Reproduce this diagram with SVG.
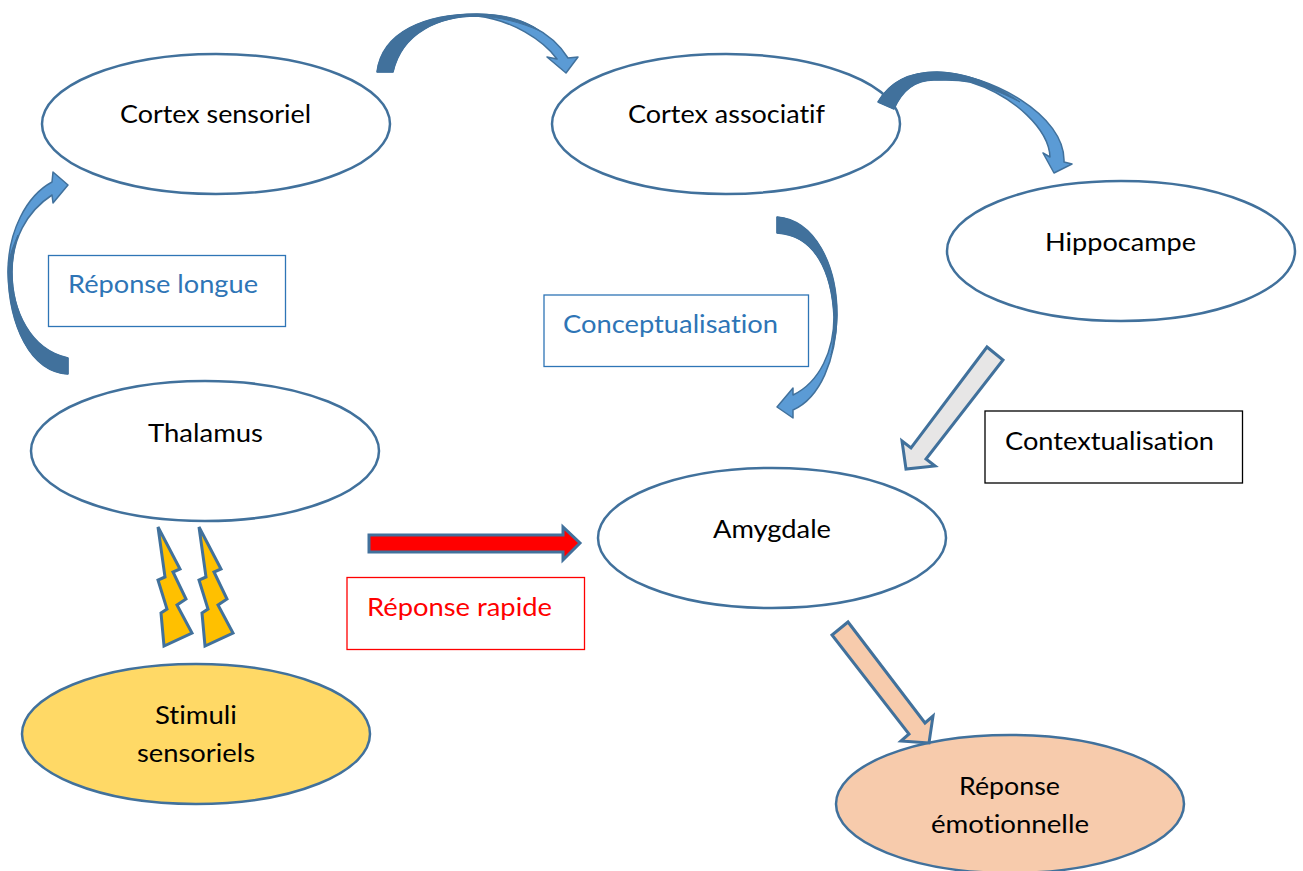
<svg xmlns="http://www.w3.org/2000/svg" width="1303" height="871" viewBox="0 0 1303 871">
<style>
.n{fill:#fff;stroke:#41719c;stroke-width:2.5}
.t{font-family:Lato,"Open Sans",sans-serif;font-size:25.5px;fill:#000;font-variant-ligatures:none}
.b{fill:#fff;stroke-width:1.3}
.a{stroke:#41719c;stroke-width:3;stroke-linejoin:miter}
.l{fill:#5b9bd5;stroke:#41719c;stroke-width:1.5;stroke-linejoin:round}
.d{fill:#41719c;stroke:#41719c;stroke-width:1;stroke-linejoin:round}
</style>
<rect width="1303" height="871" fill="#fff"/>
<g id="node-cortex-sensoriel"><ellipse class="n" cx="216" cy="124" rx="174" ry="70"/><text class="t" x="120" y="123" textLength="191" lengthAdjust="spacingAndGlyphs">Cortex sensoriel</text></g>
<g id="node-cortex-associatif"><ellipse class="n" cx="726" cy="124" rx="174" ry="70"/><text class="t" x="628" y="123" textLength="197" lengthAdjust="spacingAndGlyphs">Cortex associatif</text></g>
<g id="node-hippocampe"><ellipse class="n" cx="1121" cy="251" rx="174" ry="70"/><text class="t" x="1045" y="251" textLength="151" lengthAdjust="spacingAndGlyphs">Hippocampe</text></g>
<g id="node-thalamus"><ellipse class="n" cx="205" cy="451" rx="174" ry="70"/><text class="t" x="148" y="442" textLength="115" lengthAdjust="spacingAndGlyphs">Thalamus</text></g>
<g id="node-amygdale"><ellipse class="n" cx="772" cy="538" rx="174" ry="70"/><text class="t" x="713" y="538" textLength="118" lengthAdjust="spacingAndGlyphs">Amygdale</text></g>
<g id="node-stimuli"><ellipse class="n" cx="196" cy="734" rx="174" ry="70" style="fill:#ffd966"/><text class="t" x="155" y="724" textLength="82" lengthAdjust="spacingAndGlyphs">Stimuli</text><text class="t" x="137" y="762" textLength="118" lengthAdjust="spacingAndGlyphs">sensoriels</text></g>
<g id="node-reponse-emotionnelle"><ellipse class="n" cx="1010" cy="804" rx="174" ry="69" style="fill:#f7cbac"/><text class="t" x="959" y="795" textLength="101" lengthAdjust="spacingAndGlyphs">Réponse</text><text class="t" x="931" y="833" textLength="158" lengthAdjust="spacingAndGlyphs">émotionnelle</text></g>
<g id="label-reponse-longue"><rect class="b" x="48.500" y="255.500" width="237" height="71" stroke="#2e75b6"/><text class="t" x="68" y="293" textLength="190" lengthAdjust="spacingAndGlyphs" style="fill:#2e75b6">Réponse longue</text></g>
<g id="label-conceptualisation"><rect class="b" x="544" y="295" width="264.500" height="71.500" stroke="#2e75b6"/><text class="t" x="563" y="333" textLength="215" lengthAdjust="spacingAndGlyphs" style="fill:#2e75b6">Conceptualisation</text></g>
<g id="label-contextualisation"><rect class="b" x="985" y="411" width="257.500" height="72" stroke="#000"/><text class="t" x="1005" y="450" textLength="209" lengthAdjust="spacingAndGlyphs">Contextualisation</text></g>
<g id="label-reponse-rapide"><rect class="b" x="347" y="577.500" width="237.500" height="72" stroke="#f00"/><text class="t" x="367" y="616" textLength="185" lengthAdjust="spacingAndGlyphs" style="fill:#f00">Réponse rapide</text></g>
<g id="connectors">
<g id="c-sensoriel-associatif">
<path class="l" d="M377 72C382 32 425 14 477 14C520 15 552 32 568 58L578 57L566 73L547 57L557 59C543 40 512 20 477 16C440 16 402 32 393 72Z"/>
<path class="d" d="M377 72C382 32 425 14 477 14C505 14 525 20 540 31C520 22 500 17 477 16C440 16 402 32 393 72Z"/>
</g>
<g id="c-associatif-hippocampe">
<path class="l" d="M878 102C892 78 915 72 937 72C990 74 1066 115 1064 162L1072 164L1054 173L1043 153L1050 157C1049 130 1015 96 970 82C955 79 945 80 937 80C918 79 903 88 894 109Z"/>
<path class="d" d="M878 102C892 78 915 72 937 72C965 72 995 84 1020 102C1000 92 985 86 970 82C955 79 945 80 937 80C918 79 903 88 894 109Z"/>
</g>
<g id="c-thalamus-sensoriel">
<path class="l" d="M68 358C30 350 12 310 12 272C12 240 26 212 52 195L53 203L68 185L53 172L52 182C26 196 8 232 8 272C9 325 30 372 68 374Z"/>
<path class="d" d="M68 358C30 350 12 310 12 272C12 262 14 248 18 235C12 248 8 260 8 272C9 325 30 372 68 374Z"/>
</g>
<g id="c-associatif-amygdale">
<path class="l" d="M777 217C815 220 837 265 837 315C836 360 820 398 793 410L793 418L777 407L793 388L793 395C820 382 834 350 834 317C832 272 815 235 777 233Z"/>
<path class="d" d="M777 217C815 220 837 265 837 315C837 328 835 342 831 355C834 342 834 330 834 317C832 272 815 235 777 233Z"/>
</g>
<path id="c-stimuli-thalamus-1" class="a" fill="#ffc000" d="M158 527L180 569L173 572L186 599L177 605L192 633L164 646L161 613L167 609L158 580L165 577Z"/>
<path id="c-stimuli-thalamus-2" class="a" fill="#ffc000" d="M199 527L221 569L214 572L227 599L218 605L233 633L205 646L202 613L208 609L199 580L206 577Z"/>
<path id="c-hippocampe-amygdale" class="a" fill="#e7e6e6" d="M987 347L1003 360L926 459L935 466L906 469L902 441L911 448Z"/>
<path id="c-amygdale-reponse" class="a" fill="#f7cbac" d="M848 622L832 635L909 734L901 741L929 743L933 716L925 723Z"/>
<path id="c-thalamus-amygdale" class="a" fill="#f00" d="M369 535L563 535L563 527L580 543L563 560L563 552L369 552Z"/>
</g>
</svg>
